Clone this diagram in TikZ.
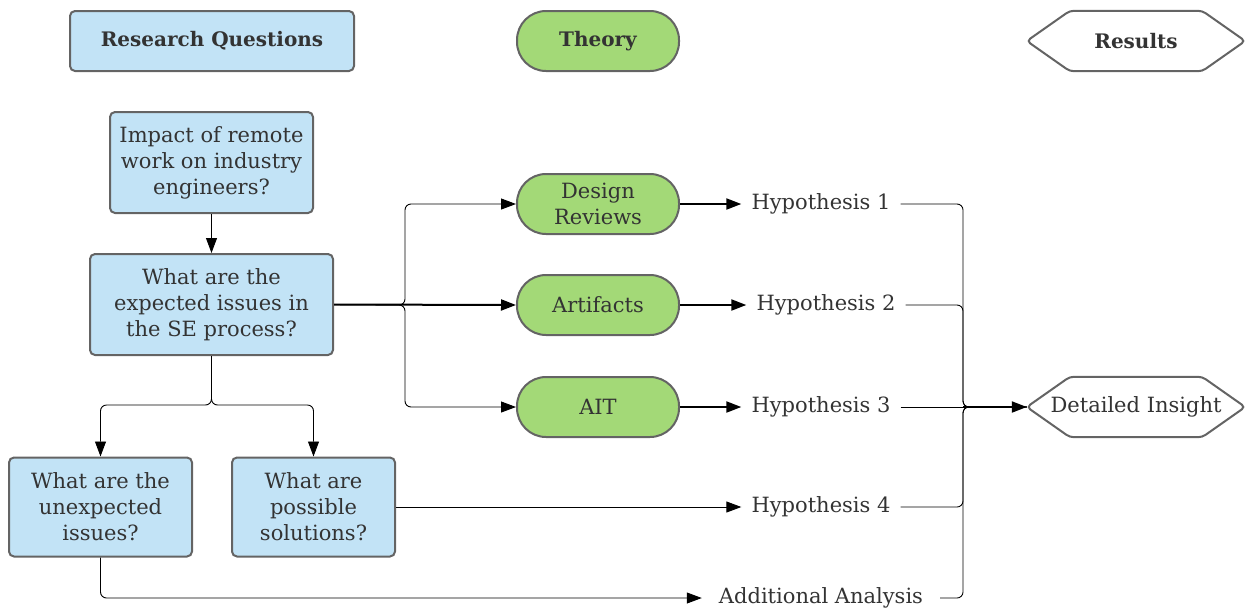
\documentclass[tikz,border=0pt]{standalone}
\usepackage{fontspec}
\setmainfont{DejaVu Serif}
\usetikzlibrary{arrows.meta}
\definecolor{rqblue}{HTML}{C2E3F6}
\definecolor{thgreen}{HTML}{A3D977}
\definecolor{bord}{HTML}{646464}
\definecolor{txt}{HTML}{333333}
\tikzset{
  basefont/.style={font=\fontsize{21}{26}\selectfont, text=txt, align=center},
  headfont/.style={font=\bfseries\fontsize{20}{24}\selectfont, text=txt, align=center},
  rqbox/.style={basefont, draw=bord, line width=2pt, fill=rqblue, rounded corners=5pt, inner sep=0pt},
  pillbox/.style={basefont, draw=bord, line width=2pt, fill=thgreen, rounded corners=29pt, inner sep=0pt, minimum width=162pt, minimum height=60pt},
  hexbox/.style={basefont, inner sep=0pt, minimum width=218pt, minimum height=60pt},
  hexdraw/.style={draw=bord, line width=2pt, fill=white, rounded corners=4pt},
  plaintext/.style={basefont, inner xsep=10pt, inner ysep=4pt},
  thin/.style={draw=black, line width=0.9pt},
  thickc/.style={draw=black, line width=2pt},
  tip/.style={-{Triangle[length=15pt 0 0,width=11pt 0 0]}},
}
\newcommand{\hexagon}[1]{%
  \draw[hexdraw] (#1.west) -- ([xshift=43pt]#1.north west) -- ([xshift=-43pt]#1.north east) -- (#1.east) -- ([xshift=-43pt]#1.south east) -- ([xshift=43pt]#1.south west) -- cycle;}
\begin{document}
\begin{tikzpicture}[x=1pt,y=-1pt]
\useasboundingbox (0,0) rectangle (1247,611);
% headers
\node[rqbox, headfont, minimum width=284pt, minimum height=60pt] (rqh) at (212,41) {Research Questions};
\node[pillbox, headfont] (th) at (598,41) {Theory};
\node[hexbox] (res) at (1136,41) {};
\hexagon{res}
\node[headfont] (restext) at (res.center) {Results};
% question boxes
\node[rqbox, minimum width=203pt, minimum height=101pt] (imp) at (211.5,162.5) {Impact of remote\\work on industry\\engineers?};
\node[rqbox, minimum width=243pt, minimum height=101pt] (exp) at (211.5,304.5) {What are the\\expected issues in\\the SE process?};
\node[rqbox, minimum width=183pt, minimum height=99pt] (unx) at (100.5,507) {What are the\\unexpected\\issues?};
\node[rqbox, minimum width=163pt, minimum height=99pt] (sol) at (313.5,507) {What are\\possible\\solutions?};
% theory pills
\node[pillbox] (dr) at (598,204) {Design\\Reviews};
\node[pillbox] (art) at (598,305) {Artifacts};
\node[pillbox] (ait) at (598,407) {AIT};
% hypotheses
\node[plaintext] (h1) at (821,204) {Hypothesis 1};
\node[plaintext] (h2) at (826,305) {Hypothesis 2};
\node[plaintext] (h3) at (821,407) {Hypothesis 3};
\node[plaintext] (h4) at (821,507) {Hypothesis 4};
\node[plaintext, inner xsep=17pt] (add) at (821,598) {Additional Analysis};
% insight
\node[hexbox] (ins) at (1136,407) {};
\hexagon{ins}
\node[basefont] (instext) at (ins.center) {Detailed Insight};
% junctions
\coordinate (j1) at (405,305);
\coordinate (j2) at (963,407);
\coordinate (j3) at (211.5,405);
% connectors
\draw[thin, tip] (imp) -- (exp);
\draw[thickc, tip] (exp.east) -- (art.west);
\draw[thin, tip, rounded corners=6pt] (exp.east) -- (j1) |- (dr.west);
\draw[thin, tip, rounded corners=6pt] (exp.east) -- (j1) |- (ait.west);
\draw[thickc, tip] (dr) -- (h1);
\draw[thickc, tip] (art) -- (h2);
\draw[thickc, tip] (ait) -- (h3);
\draw[thin, tip, rounded corners=6pt] (exp.south) -- (j3) -| (unx.north);
\draw[thin, tip, rounded corners=6pt] (exp.south) -- (j3) -| (sol.north);
\draw[thin, tip] (sol.east) -- (h4.west);
\draw[thin, tip, rounded corners=6pt] (unx.south) |- (add.west);
\draw[thin, rounded corners=6pt] (h1.east) -| (j2) -- (ins.west);
\draw[thin, rounded corners=6pt] (h2.east) -| (j2) -- (ins.west);
\draw[thin] (h3.east) -- (j2);
\draw[thin, rounded corners=6pt] (h4.east) -| (j2) -- (ins.west);
\draw[thin, rounded corners=6pt] (add.east) -| (j2) -- (ins.west);
\draw[thickc, tip] (j2) -- (ins.west);
\end{tikzpicture}
\end{document}
